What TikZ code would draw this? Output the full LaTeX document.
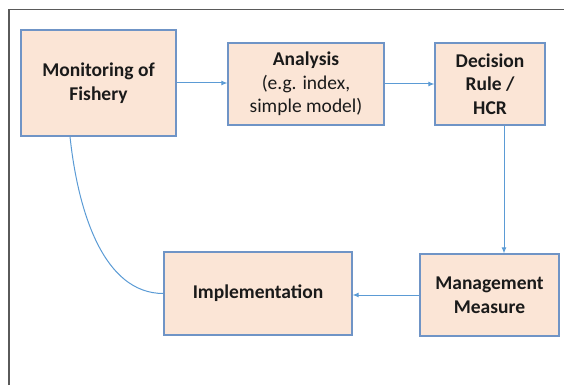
\documentclass[tikz,border=0pt]{standalone}
\usepackage{fontspec}
\setmainfont{Carlito}
\usetikzlibrary{arrows.meta}
\definecolor{boxfill}{HTML}{FBE5D6}
\definecolor{boxline}{HTML}{6F94C6}
\definecolor{arrline}{HTML}{5B9BD5}
\definecolor{frameline}{HTML}{5A5A5A}
\definecolor{txt}{HTML}{1A1A1A}
\tikzset{
  stepbox/.style={draw=boxline, fill=boxfill, line width=1.2pt, inner sep=0pt,
    align=center, text=txt, font=\fontsize{19.5}{23.5}\selectfont},
  arr/.style={draw=arrline, line width=1pt, -{Latex[length=6pt,width=5pt]}},
  link/.style={draw=arrline, line width=1pt},
}
\begin{document}
\begin{tikzpicture}[x=1pt,y=-1pt]
\useasboundingbox (0,0) rectangle (564,385);
\draw[frameline, line width=1.6pt] (9,385) -- (9,9.5) -- (564,9.5);
\node[stepbox, minimum width=155pt, minimum height=106pt] (mon) at (98.5,83) {\bfseries Monitoring of\\\bfseries Fishery};
\node[stepbox, minimum width=156pt, minimum height=82pt] (ana) at (306,84) {\bfseries Analysis\\(e.g. index,\\simple model)};
\node[stepbox, minimum width=110pt, minimum height=82pt] (dec) at (490,84) {\bfseries Decision\\\bfseries Rule /\\\bfseries HCR};
\node[stepbox, minimum width=188pt, minimum height=83pt] (imp) at (258,293.5) {\bfseries Implementation};
\node[stepbox, minimum width=139pt, minimum height=82pt] (man) at (489.5,295) {\bfseries Management\\\bfseries Measure};
\draw[arr] (mon.east) -- (mon.east -| ana.west);
\draw[arr] (ana.east) -- (dec.west);
\draw[arr] ([xshift=14pt]dec.south) -- ([xshift=14pt]dec.south |- man.north);
\draw[arr] (man.west) -- (man.west -| imp.east);
\draw[link] ([xshift=-28.5pt]mon.south) .. controls +(8,75) and +(-60,0) .. (imp.west);
\end{tikzpicture}
\end{document}
